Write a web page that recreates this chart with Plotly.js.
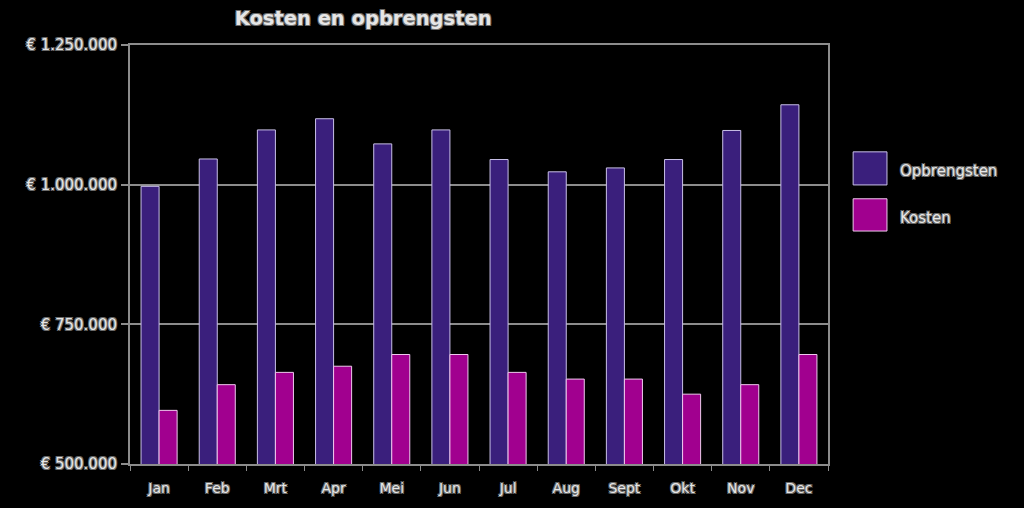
<!DOCTYPE html>
<html>
<head>
<meta charset="utf-8">
<script src="https://cdn.plot.ly/plotly-3.0.1.min.js"></script>
<style>
html,body{margin:0;padding:0;background:#000;}
#chart{width:1024px;height:508px;}
</style>
</head>
<body>
<div id="chart"></div>
<script>
const months = ["Jan","Feb","Mrt","Apr","Mei","Jun","Jul","Aug","Sept","Okt","Nov","Dec"];
const opbrengsten = [997000,1046000,1098000,1118000,1073000,1098000,1045000,1023000,1030000,1045000,1097000,1143000];
const kosten = [596000,642000,664000,675000,696000,696000,664000,652000,652000,625000,642000,696000];
const seriesNames = ["Opbrengsten","Kosten"];
const colOpb = "#3a1f7c";
const colKos = "#a1008f";
const yTickVals = [500000,750000,1000000,1250000];
const yTickText = ["€ 500.000","€ 750.000","€ 1.000.000","€ 1.250.000"];

const outline = "-1px -1px 0 #6a6a6a, 1px -1px 0 #6a6a6a, -1px 1px 0 #6a6a6a, 1px 1px 0 #6a6a6a";
const fam = "DejaVu Sans, Verdana, sans-serif";
const yFont = {family:fam, size:15, color:"#e6e6e6", shadow:outline};
const xFont = {family:fam, size:14, color:"#e6e6e6", shadow:outline};
const legFont = {family:fam, size:15, color:"#e6e6e6", shadow:outline};

const traces = [
  {type:"bar", name:seriesNames[0], x:months, y:opbrengsten,
   marker:{color:colOpb, line:{color:"#c9c0e8", width:1}}, showlegend:false, hoverinfo:"x+y"},
  {type:"bar", name:seriesNames[1], x:months, y:kosten,
   marker:{color:colKos, line:{color:"#f0c8ee", width:1}}, showlegend:false, hoverinfo:"x+y"}
];

const layout = {
  width:1024, height:508,
  paper_bgcolor:"#000", plot_bgcolor:"#000",
  margin:{l:130, r:196, t:45, b:44},
  barmode:"group", bargap:0.38, bargroupgap:0,
  showlegend:false,
  title:{text:"<b>Kosten en opbrengsten</b>", x:0.334, xref:"paper", xanchor:"center", y:0.965, yanchor:"middle",
         font:{family:fam, size:19.5, color:"#e6e6e6", shadow:outline}},
  xaxis:{type:"category", showline:true, linecolor:"#8c8c8c", linewidth:2, mirror:true,
         ticks:"outside", ticklen:5, tickcolor:"#8c8c8c", tickwidth:1, tickson:"boundaries",
         showgrid:false, tickfont:xFont, ticklabelstandoff:10, fixedrange:true},
  yaxis:{range:[500000,1250000], tickvals:yTickVals, ticktext:yTickText,
         showline:true, linecolor:"#8c8c8c", linewidth:2, mirror:true,
         ticks:"outside", ticklen:7, tickcolor:"#8c8c8c", tickwidth:2,
         showgrid:true, gridcolor:"#8c8c8c", gridwidth:2, zeroline:false,
         tickfont:yFont, ticklabelstandoff:1, fixedrange:true},
  shapes:[
    {type:"rect", xref:"paper", yref:"paper", x0:1.036, x1:1.0845, y0:0.666, y1:0.745,
     fillcolor:colOpb, line:{color:"#c9c0e8", width:1}},
    {type:"rect", xref:"paper", yref:"paper", x0:1.036, x1:1.0845, y0:0.556, y1:0.633,
     fillcolor:colKos, line:{color:"#f0c8ee", width:1}}
  ],
  annotations:[
    {xref:"paper", yref:"paper", x:1.1, y:0.70, xanchor:"left", yanchor:"middle", showarrow:false,
     text:seriesNames[0], font:legFont},
    {xref:"paper", yref:"paper", x:1.1, y:0.588, xanchor:"left", yanchor:"middle", showarrow:false,
     text:seriesNames[1], font:legFont}
  ]
};

Plotly.newPlot("chart", traces, layout, {displayModeBar:false, staticPlot:true});
</script>
</body>
</html>
